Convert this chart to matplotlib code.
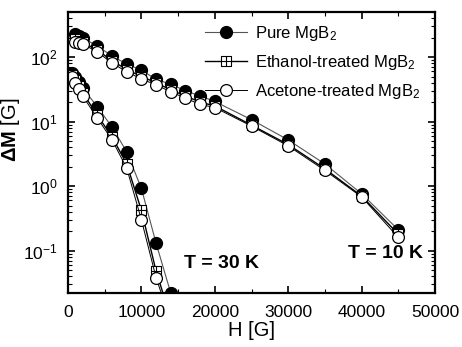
import matplotlib
matplotlib.use('Agg')
import matplotlib.pyplot as plt
from matplotlib.path import Path
from matplotlib.ticker import MultipleLocator, LogLocator, NullFormatter

plt.rcParams['font.family'] = 'Liberation Sans'
plt.rcParams['mathtext.fontset'] = 'custom'
plt.rcParams['mathtext.rm'] = 'Liberation Sans'
plt.rcParams['mathtext.it'] = 'Liberation Sans:italic'
plt.rcParams['mathtext.bf'] = 'Liberation Sans:bold'

## T = 10 K data
H10 = [1000, 1500, 2000, 4000, 6000, 8000, 10000, 12000, 14000, 16000, 18000,
       20000, 25000, 30000, 35000, 40000, 45000]
pure10 = [225, 212, 198, 148, 104, 78, 63, 45, 38, 30, 25, 20.5, 10.7, 5.2, 2.2, 0.76, 0.21]
eth10 = [190, 180, 170, 128, 88, 64, 50, 40, 31, 25, 20, 17.5, 8.8, 4.4, 1.85, 0.7, 0.18]
ace10 = [170, 165, 160, 120, 81, 59, 46, 37, 29, 23, 18.5, 16.5, 8.5, 4.2, 1.75, 0.68, 0.16]

## T = 30 K data
H30 = [500, 1000, 1500, 2000, 4000, 6000, 8000, 10000, 12000, 14000]
pure30 = [56, 49, 41, 33, 17, 8.2, 3.4, 0.92, 0.13, 0.022]
eth30 = [52, 44, 35, 28, 12.5, 5.8, 2.2, 0.42, 0.048, 0.009]
ace30 = [49, 40, 32, 25, 11.3, 5.2, 1.9, 0.3, 0.038, 0.008]

labels = ['Pure MgB$_2$', 'Ethanol-treated MgB$_2$', 'Acetone-treated MgB$_2$']

# square with a cross inside
sqx = Path([(-1, -1), (1, -1), (1, 1), (-1, 1), (-1, -1), (-1, 0), (1, 0), (0, -1), (0, 1)],
           [Path.MOVETO, Path.LINETO, Path.LINETO, Path.LINETO, Path.CLOSEPOLY,
            Path.MOVETO, Path.LINETO, Path.MOVETO, Path.LINETO])

fig = plt.figure(figsize=(4.62, 3.47), dpi=100)
ax = fig.add_axes([68/462, 1-293/347, (435-68)/462, (293-12)/347])

ms = 8.5
st_pure = dict(color='#555555', lw=0.8, marker='o', ms=ms, mfc='black', mec='black')
st_eth = dict(color='black', lw=1.0, marker=sqx, ms=7.5, mfc='white', mec='black', mew=0.8)
st_ace = dict(color='black', lw=0.7, marker='o', ms=ms, mfc='white', mec='black', mew=0.9)

ax.plot(H10, pure10, label=labels[0], **st_pure)
ax.plot(H30, pure30, **st_pure)
ax.plot(H10, eth10, label=labels[1], **st_eth)
ax.plot(H30, eth30, **st_eth)
ax.plot(H10, ace10, label=labels[2], **st_ace)
ax.plot(H30, ace30, **st_ace)

ax.set_yscale('log')
ax.set_xlim(0, 50000)
ax.set_ylim(0.022, 500)
ax.xaxis.set_major_locator(MultipleLocator(10000))
ax.xaxis.set_minor_locator(MultipleLocator(5000))
ax.yaxis.set_major_locator(LogLocator(base=10, numticks=10))
ax.yaxis.set_minor_locator(LogLocator(base=10, subs=range(2, 10), numticks=10))
ax.yaxis.set_minor_formatter(NullFormatter())

ax.tick_params(which='both', direction='in', top=True, right=True, labelsize=12.5)
ax.tick_params(which='major', length=5, width=1.2)
ax.tick_params(which='minor', length=3, width=0.8)
ax.tick_params(axis='x', which='major', pad=8.5)
ax.tick_params(axis='y', which='major', pad=7.5)
for s in ax.spines.values():
    s.set_linewidth(1.6)

ax.set_xlabel('H [G]', fontsize=14.5, labelpad=1)
ax.set_ylabel(r'$\mathbf{\Delta M}$ [G]', fontsize=14.5)
ax.yaxis.set_label_coords(-0.125, 0.58)

ax.text(20850, 0.062, 'T = 30 K', fontsize=14, fontweight='bold', ha='center', va='center')
ax.text(43200, 0.091, 'T = 10 K', fontsize=14, fontweight='bold', ha='center', va='center')

ax.legend(loc='upper left', bbox_to_anchor=(205/462, 1-24/347), bbox_transform=fig.transFigure,
          frameon=False, borderpad=0, borderaxespad=0, handlelength=2.5, handletextpad=0.5,
          labelspacing=0.6, fontsize=12, numpoints=1)

fig.savefig('out.png', dpi=100)
